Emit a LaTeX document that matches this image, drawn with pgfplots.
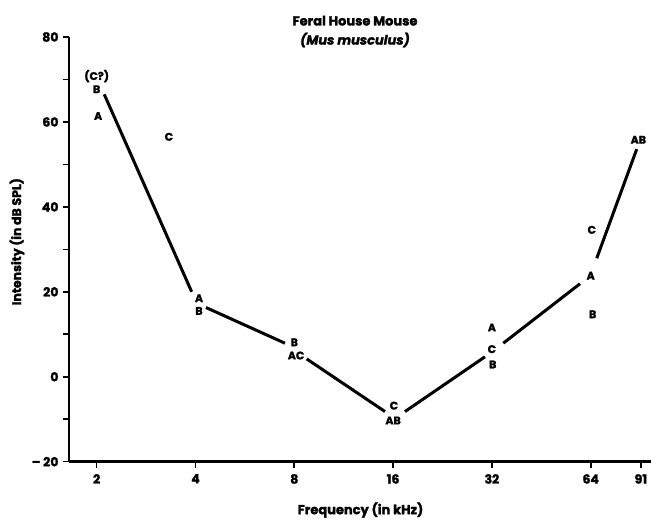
\documentclass[border=0pt]{standalone}
\usepackage{fontspec}
\setmainfont{Poppins}[BoldFeatures={FakeBold=1.8}, BoldItalicFeatures={FakeBold=1.8}]
\usepackage{pgfplots}
\pgfplotsset{compat=1.18}
\usepackage{pgfplotstable}
\pgfplotstableread{
x y label
2 70.8 (C?)
2 67.7 B
2.02 61.4 A
3.32 56.5 C
4.1 18.5 A
4.1 15.5 B
8.0 8.1 B
8.1 5.0 AC
16.1 -6.8 C
16 -10.3 AB
32 11.6 A
32 6.5 C
32.2 2.9 B
64.5 34.6 C
64 23.8 A
64.9 14.7 B
89.4 55.8 AB
}\letters
\begin{document}
\begin{tikzpicture}[x=1pt,y=1pt]
\useasboundingbox (0,0) rectangle (651,522);
\begin{axis}[
  at={(69pt,60.3pt)}, anchor=south west,
  scale only axis, width=582pt, height=424.7pt,
  xmode=log, log basis x=2,
  xmin=1.647, xmax=97.7, ymin=-20, ymax=80,
  axis x line*=bottom, axis y line*=left,
  axis line style={line width=2.8pt, -},
  xtick={2,4,8,16,32,64,91},
  xticklabels={2,4,8,16,32,64,91},
  ytick={-20,0,20,40,60,80},
  yticklabels={{-- 20},0,20,40,60,80},
  minor ytick={-10,10,30,50,70},
  tick align=outside,
  major tick length=6pt, minor tick length=6pt,
  every tick/.style={black, line width=1.6pt},
  tick label style={font=\bfseries\fontsize{12.5}{14}\selectfont},
  xticklabel style={yshift=-3pt},
  yticklabel style={xshift=-1pt},
  clip=false,
]
\addplot[black, line width=3pt] coordinates {(2.109,66.5) (3.895,20.0)};
\addplot[black, line width=3pt] coordinates {(4.306,16.3) (7.495,7.9)};
\addplot[black, line width=3pt] coordinates {(8.727,4.2) (15.12,-8.2)};
\addplot[black, line width=3pt] coordinates {(17.39,-8.2) (30.48,4.7)};
\addplot[black, line width=3pt] coordinates {(34.66,7.9) (59.37,21.9)};
\addplot[black, line width=3pt] coordinates {(66.77,27.9) (88.4,53.6)};
\addplot[draw=none, mark=none, nodes near coords, point meta=explicit symbolic,
  nodes near coords align=center,
  every node near coord/.append style={font=\bfseries\fontsize{11}{12}\selectfont, inner sep=0pt}]
  table[x=x, y=y, meta=label] {\letters};
\end{axis}
\node[font=\bfseries\fontsize{13}{15}\selectfont] at (355,501.3) {Feral House Mouse};
\node[font=\bfseries\itshape\fontsize{13}{15}\selectfont] at (355,482) {(Mus musculus)};
\node[font=\bfseries\fontsize{12.5}{14}\selectfont, rotate=90] at (17,280.3) {Intensity (in dB SPL)};
\node[font=\bfseries\fontsize{13}{15}\selectfont] at (360.5,12) {Frequency (in kHz)};
\end{tikzpicture}
\end{document}
